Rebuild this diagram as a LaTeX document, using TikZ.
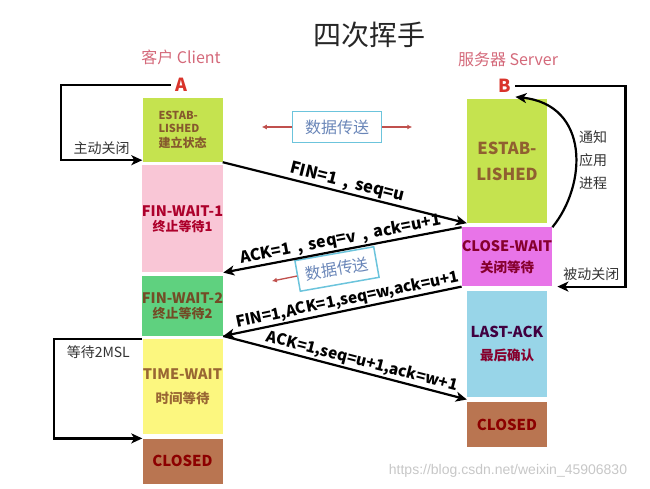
\documentclass[tikz,border=0pt]{standalone}
\usepackage{fontspec}
\setmainfont{Noto Sans CJK SC}
\newfontfamily\urlfont{Liberation Sans}
\usetikzlibrary{arrows.meta,positioning,calc}
\definecolor{estgreen}{HTML}{C5E34F}
\definecolor{waitpink}{HTML}{F9C6D6}
\definecolor{waitgreen}{HTML}{5FD17F}
\definecolor{timeyellow}{HTML}{FCF77F}
\definecolor{closebrown}{HTML}{B97551}
\definecolor{closemagenta}{HTML}{E874E8}
\definecolor{lastblue}{HTML}{98D5E8}
\definecolor{headred}{HTML}{D4697A}
\definecolor{letterred}{HTML}{D9342B}
\definecolor{databorder}{HTML}{6CC4DC}
\definecolor{datatext}{HTML}{6A86B8}
\definecolor{dataarrow}{HTML}{C0504D}
\tikzset{
  stbox/.style={rectangle,inner sep=0pt,minimum width=80pt,align=center},
  arr/.style={-{Stealth[length=11pt,width=10pt,inset=3pt]},line width=2.2pt},
  redarr/.style={-{Latex[length=5pt,width=5pt]},line width=1.3pt,dataarrow},
  msg/.style={sloped,above,inner sep=1pt,font=\fontsize{15.5}{15.5}\selectfont\bfseries},
  side/.style={text=headred,font=\fontsize{16}{16}\selectfont},
  endpt/.style={text=letterred,inner sep=4pt,font=\fontsize{18}{18}\selectfont\bfseries},
  note/.style={text=black!80,font=\fontsize{14}{14}\selectfont},
  databox/.style={draw=databorder,line width=1.5pt,text=datatext,minimum width=89pt,minimum height=31pt,inner sep=0pt,font=\fontsize{16}{16}\selectfont}
}
\begin{document}
\begin{tikzpicture}[x=1pt,y=-1pt,node distance=3pt]
\useasboundingbox (0,0) rectangle (650,489);
\node[text=black!85,font=\fontsize{28}{28}\selectfont] (title) at (369,35) {四次挥手};
\node[side] (client) at (181,57) {客户 Client};
\node[side] (server) at (508,59) {服务器 Server};
\node[endpt] (A) at (181,85) {A};
\node[endpt] (B) at (505,86) {B};

% client column
\node[stbox,fill=estgreen,minimum height=64pt,text=brown!70!black,align=left,font=\fontsize{11}{13}\selectfont\bfseries] (cest) at (182.5,130) {ESTAB-\\LISHED\\[2pt]{\fontsize{12}{12}\selectfont 建立状态}};
\node[stbox,fill=waitpink,minimum height=107pt,below=of cest,text=purple!80!red!85!black,font=\fontsize{14.5}{15}\selectfont\bfseries] (cfw1) {FIN-WAIT-1\\{\fontsize{13}{13}\selectfont 终止等待1}};
\node[stbox,fill=waitgreen,minimum height=60pt,below=of cfw1,text=brown!60!black,font=\fontsize{14.5}{15}\selectfont\bfseries] (cfw2) {FIN-WAIT-2\\{\fontsize{13}{13}\selectfont 终止等待2}};
\node[stbox,fill=timeyellow,minimum height=95pt,below=of cfw2,text=brown!80!black,font=\fontsize{14.5}{24}\selectfont\bfseries] (ctw) {TIME-WAIT\\{\fontsize{13.5}{13.5}\selectfont 时间等待}};
\node[stbox,fill=closebrown,minimum height=45pt,below=4pt of ctw,text=red!55!black,font=\fontsize{15}{15}\selectfont\bfseries] (ccl) {CLOSED};

% server column
\node[stbox,fill=estgreen,minimum height=124pt,text=brown!75!black,font=\fontsize{16.5}{26}\selectfont\bfseries] (sest) at (507,161) {ESTAB-\\LISHED};
\node[stbox,fill=closemagenta,minimum height=59pt,below=4pt of sest,text=purple!70!black,font=\fontsize{14.5}{21}\selectfont\bfseries] (scw) {CLOSE-WAIT\\{\fontsize{13.5}{13.5}\selectfont 关闭等待}};
\node[stbox,fill=lastblue,minimum height=106pt,below=4pt of scw,text=violet!50!black,font=\fontsize{15}{23}\selectfont\bfseries] (sla) {LAST-ACK\\{\fontsize{13.5}{13.5}\selectfont\color{purple!70!black}最后确认}};
\node[stbox,fill=closebrown,minimum height=45pt,below=5pt of sla,text=red!55!black,font=\fontsize{15}{15}\selectfont\bfseries] (scl) {CLOSED};

% data transfer
\node[databox] (data1) at (337,127) {数据传送};
\draw[redarr] (data1.west) -- ++(-30,0);
\draw[redarr] (data1.east) -- ++(30,0);
\node[databox,rotate=10,minimum width=80pt] (data2) at (337,269) {数据传送};
\draw[redarr] (data2.west) -- ++(-25,5);

% messages
\draw[arr] (cest.south east) -- node[msg,font=\fontsize{16.5}{16.5}\selectfont\bfseries] {FIN=1\, , \,seq=u} (sest.south west);
\draw[arr] (scw.north west) -- node[msg,font=\fontsize{16}{16}\selectfont\bfseries] {ACK=1\, , \,seq=v\, , \,ack=u+1} (cfw1.south east);
\draw[arr] (scw.south west) -- node[msg,pos=0.47] {FIN=1,ACK=1,seq=w,ack=u+1} (cfw2.south east);
\draw[arr] (cfw2.south east) -- node[msg,pos=0.56] {ACK=1,seq=u+1,ack=w+1} ($(sla.south west)!0.5!(scl.north west)$);

% loops
\draw[arr] (A.west) -- ++(-110,0) |- node[note,pos=0.75,above,inner sep=4pt] {主动关闭} ([yshift=2pt]cest.south west);
\draw[arr] (B.east) -- ++(110,0) |- node[note,pos=0.75,above,inner sep=5pt] {被动关闭} ([xshift=5pt]scw.south east);
\draw[arr] (ctw.north west) -- node[note,below,inner sep=6pt] {等待2MSL} ++(-88,0) |- (ccl.north west);
\draw[arr] (scw.north east) .. controls (587,185) and (590,105) .. (B.south east);
\node[note,align=center,font=\fontsize{14}{23}\selectfont] (notify) at (593,160) {通知\\应用\\进程};

\node[text=black!22,font=\urlfont\fontsize{14}{14}\selectfont] (mark) at (508,471) {https://blog.csdn.net/weixin\_45906830};
\end{tikzpicture}
\end{document}
